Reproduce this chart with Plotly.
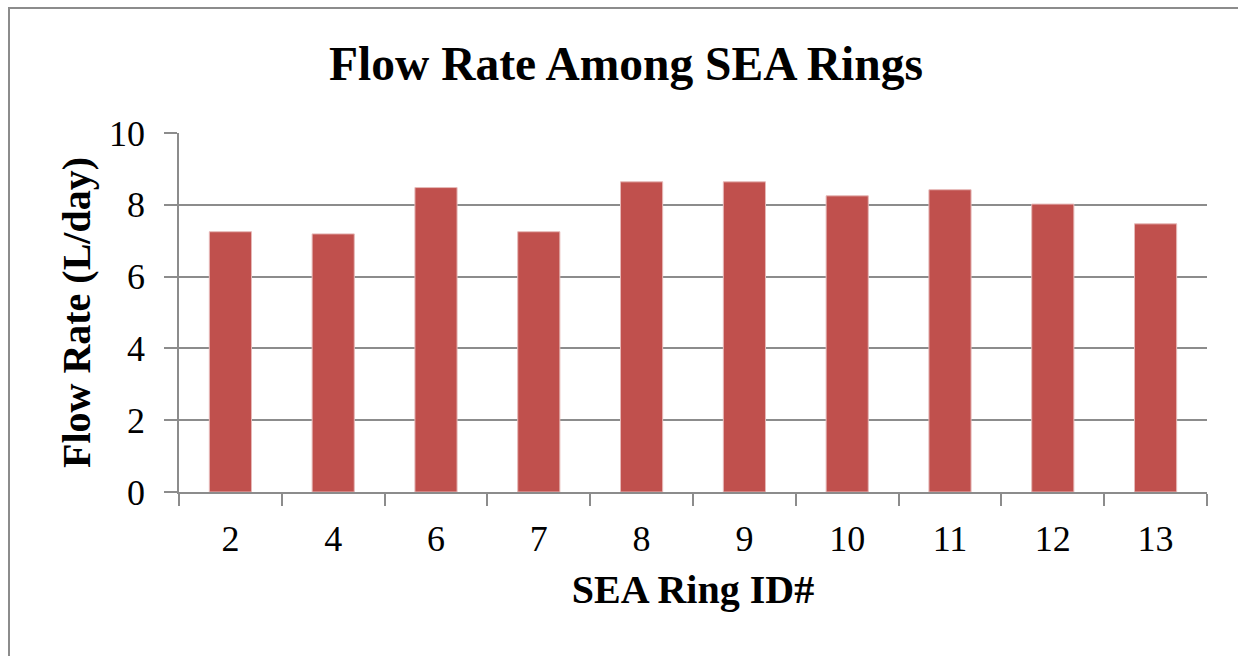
import plotly.graph_objects as go

ring_ids = ["2", "4", "6", "7", "8", "9", "10", "11", "12", "13"]
flow_rate = [7.25, 7.19, 8.48, 7.25, 8.64, 8.64, 8.25, 8.42, 8.02, 7.47]
y_ticks = [0, 2, 4, 6, 8, 10]

FONT = "Liberation Serif, Times New Roman, serif"
GRID = "#8c8c8c"

fig = go.Figure()
fig.add_trace(go.Bar(
    x=ring_ids, y=flow_rate,
    marker=dict(color="#C0504D", line=dict(color="#E6B9B8", width=1)),
    width=0.41,
))

fig.update_layout(
    width=1238, height=656,
    margin=dict(l=179, r=31, t=133, b=164),
    paper_bgcolor="white", plot_bgcolor="white",
    showlegend=False,
    font=dict(family=FONT, color="black"),
    title=dict(text="<b>Flow Rate Among SEA Rings</b>", x=626 / 1238, xref="container", xanchor="center",
               y=1 - 63 / 656, yanchor="middle",
               font=dict(family=FONT, size=47.5, color="black")),
    xaxis=dict(
        type="category",
        showline=True, linecolor=GRID, linewidth=1.5,
        ticks="outside", tickson="boundaries", ticklen=12, tickcolor=GRID, tickwidth=1.5,
        tickfont=dict(family=FONT, size=36, color="black"),
        ticklabelstandoff=14,
        title=dict(text="<b>SEA Ring ID#</b>", font=dict(family=FONT, size=40, color="black"), standoff=17),
        showgrid=False,
    ),
    yaxis=dict(
        range=[0, 10], tickvals=y_ticks,
        showline=True, linecolor=GRID, linewidth=1.5,
        ticks="outside", ticklen=13, tickcolor=GRID, tickwidth=1.5,
        showgrid=True, gridcolor=GRID, gridwidth=1.5,
        zeroline=False,
        tickfont=dict(family=FONT, size=36, color="black"),
        ticklabelstandoff=12,
        title=dict(text="<b>Flow Rate (L/day)</b>", font=dict(family=FONT, size=40, color="black"), standoff=6),
    ),
    bargap=0.59,
)

# outer chart border
fig.add_shape(type="rect", xref="paper", yref="paper",
              x0=(9 - 179) / 1028, x1=(1250 - 179) / 1028,
              y0=(492 - 680) / 359, y1=(492 - 8) / 359,
              line=dict(color="#8c8c8c", width=2), fillcolor="rgba(0,0,0,0)", layer="below")

fig.write_html("out.html", config={"displayModeBar": False},
               post_script="document.body.style.margin='0';")
